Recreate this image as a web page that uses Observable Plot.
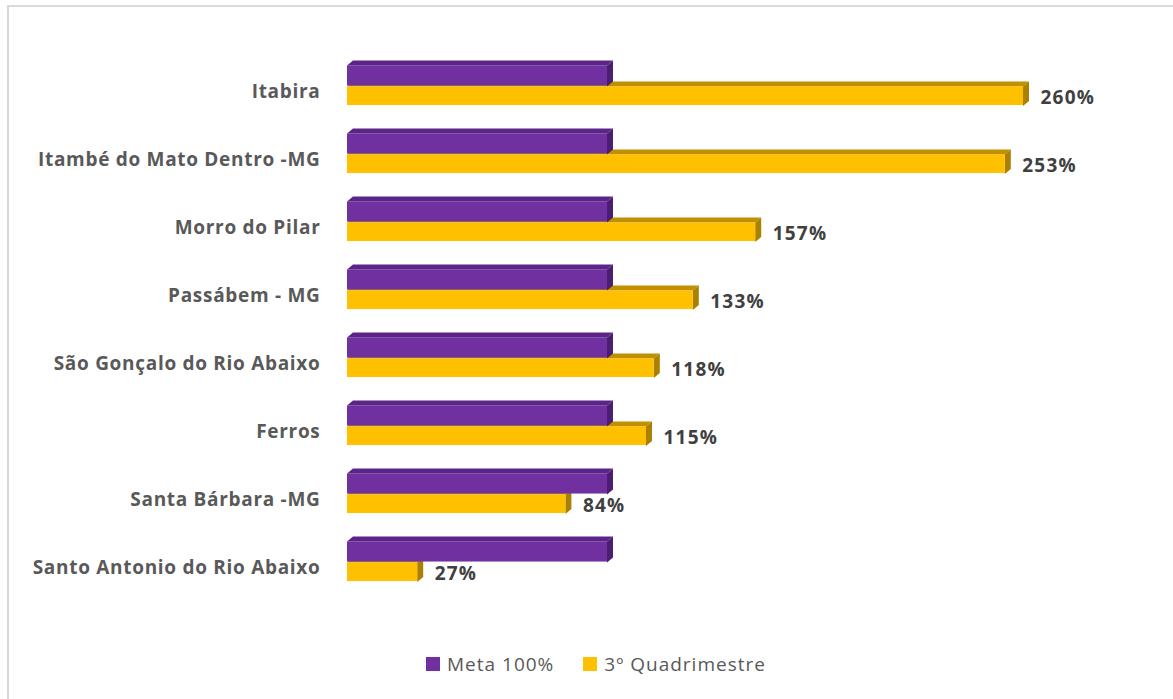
<!DOCTYPE html>
<html><head><meta charset="utf-8">
<script src="https://cdn.jsdelivr.net/npm/d3@7"></script>
<script src="https://cdn.jsdelivr.net/npm/@observablehq/plot@0.6"></script>
<style>
body{margin:0;background:#fff;font-family:"Open Sans",sans-serif;overflow:hidden;}
#frame{position:absolute;left:7px;top:5px;width:1200px;height:720px;border:2px solid #d9d9d9;box-sizing:border-box;}
#chart{position:absolute;left:0;top:0;}
#chart g[aria-label="text"] text{letter-spacing:1.2px;}
#chart g[aria-label="y-axis tick label"] text{letter-spacing:0.7px;}
#legend{position:absolute;top:651px;left:426px;display:flex;align-items:center;font-size:19px;letter-spacing:1px;color:#595959;font-family:"Open Sans",sans-serif;}
#legend .sw{width:14px;height:14px;display:inline-block;margin-right:7px;}
#legend .item{display:flex;align-items:center;margin-right:29px;}
</style></head>
<body>
<div id="frame"></div>
<div id="chart"></div>
<div id="legend"></div>
<script>
const categories = ["Itabira","Itambé do Mato Dentro -MG","Morro do Pilar","Passábem - MG","São Gonçalo do Rio Abaixo","Ferros","Santa Bárbara -MG","Santo Antonio do Rio Abaixo"];
const metaValues = [100,100,100,100,100,100,100,100];
const quadValues = [260,253,157,133,118,115,84,27];
const seriesNames = ["Meta 100%","3º Quadrimestre"];
const seriesColors = ["#7030A0","#FFC000"];

const rows = categories.map((c,i)=>({cat:c, meta:metaValues[i], quad:quadValues[i]}));

const W = 1173, H = 640;
const depthX = 6, depthY = 5;
const pTop = 8.4, pBot = 29.4, yTop = 29.4, yBot = 48.9;

function faces(key, y0, y1, topColor, sideColor) {
  return (index, scales) => {
    const g = d3.create("svg:g");
    for (const d of rows) {
      const bt = scales.y(d.cat);
      const x0 = scales.x(0), x1 = scales.x(d[key]);
      const t = bt + y0, b = bt + y1;
      g.append("polygon")
        .attr("points", [[x0,t],[x0+depthX,t-depthY],[x1+depthX,t-depthY],[x1,t]].map(p=>p.join(",")).join(" "))
        .attr("fill", topColor);
      g.append("polygon")
        .attr("points", [[x1,t],[x1+depthX,t-depthY],[x1+depthX,b-depthY],[x1,b]].map(p=>p.join(",")).join(" "))
        .attr("fill", sideColor);
    }
    return g.node();
  };
}

const chart = Plot.plot({
  width: W, height: H,
  marginLeft: 347, marginRight: 0, marginTop: 53.1, marginBottom: 36,
  style: {fontFamily: "'Open Sans', sans-serif", background: "transparent"},
  x: {domain: [0, (W-347)/2.6], axis: null},
  y: {type: "band", domain: categories, padding: 0, axis: null},
  marks: [
    faces("quad", yTop, yBot, "#C09000", "#A98000"),
    faces("meta", pTop, pBot, "#5B2587", "#4A1E70"),
    Plot.barX(rows, {x: "quad", y: "cat", fill: seriesColors[1], insetTop: yTop, insetBottom: 68.86 - yBot}),
    Plot.barX(rows, {x: "meta", y: "cat", fill: seriesColors[0], insetTop: pTop, insetBottom: 68.86 - pBot}),
    Plot.text(rows, {x: "quad", y: "cat", text: d => d.quad + "%", textAnchor: "start", dx: 17, dy: 6, fontSize: 19, fontWeight: "bold", fill: "#404040"}),
    Plot.axisY({tickSize: 0, tickPadding: 27, fontSize: 19, fontWeight: "bold", color: "#595959", label: null})
  ]
});
document.getElementById("chart").appendChild(chart);

const legend = document.getElementById("legend");
seriesNames.forEach((n,i)=>{
  const it = document.createElement("div"); it.className="item";
  const sw = document.createElement("span"); sw.className="sw"; sw.style.background = seriesColors[i];
  it.appendChild(sw); it.appendChild(document.createTextNode(n));
  legend.appendChild(it);
});
</script>
</body></html>
